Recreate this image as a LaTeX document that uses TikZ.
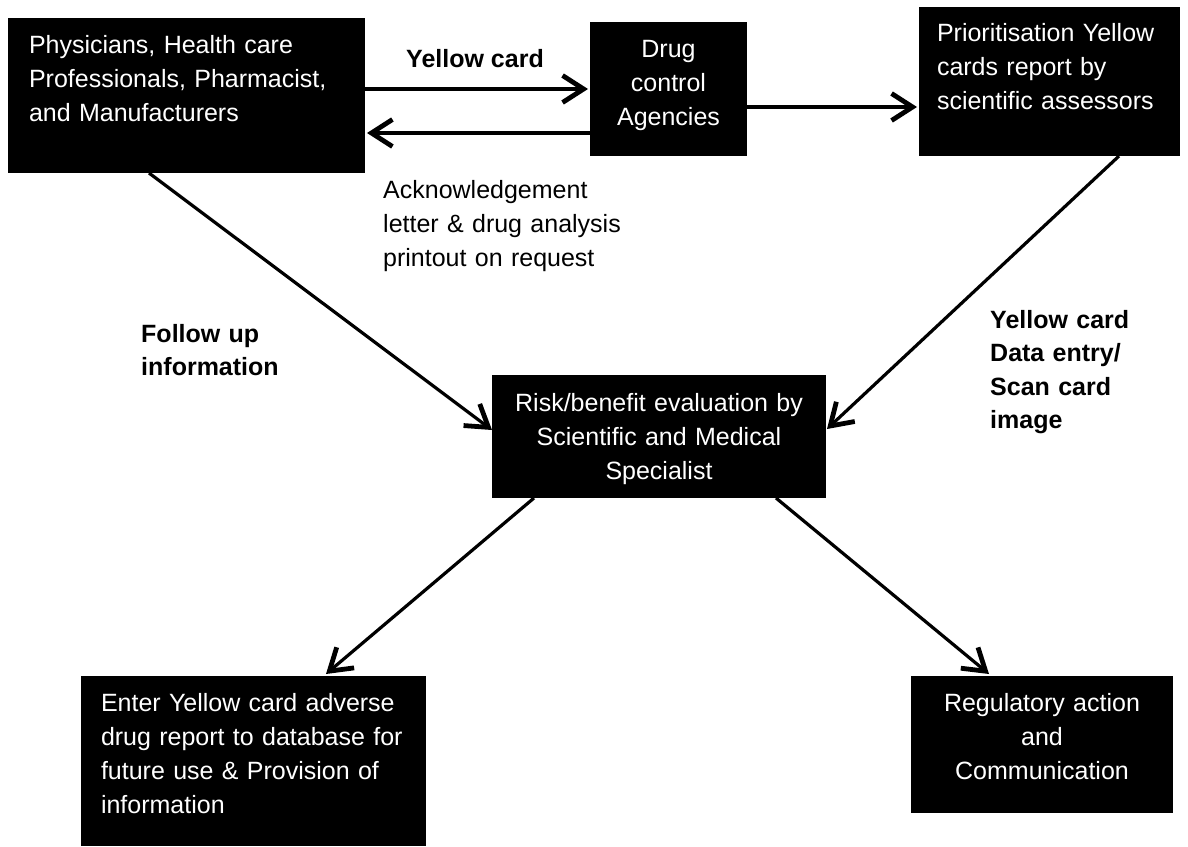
\documentclass[tikz,border=0pt]{standalone}
\usepackage{fontspec}
\setmainfont{Liberation Sans}
\usetikzlibrary{arrows.meta,calc}
\begin{document}
\begin{tikzpicture}[x=1pt,y=-1pt,
  txt/.style={font=\fontsize{25}{34}\selectfont},
  btxt/.style={font=\fontsize{25}{33.5}\selectfont\bfseries},
  box/.style={txt, fill=black, text=white, draw=none, inner ysep=0pt, outer sep=0pt, anchor=north west},
  lbl/.style={text=black, inner sep=0pt, anchor=base west},
  arr/.style={line width=3.2pt, -{Straight Barb[length=21pt,width=27pt,line width=4.8pt]}}]
\useasboundingbox[fill=white] (0,0) rectangle (1188,846);

% boxes
\node[box, inner xsep=21pt, text width=315pt, align=left, text height=35pt, text depth=120pt]
  (phys) at (8,18) {Physicians, Health care\\Professionals, Pharmacist,\\and Manufacturers};
\node[box, inner xsep=0pt, text width=157pt, align=center, text height=35pt, text depth=99pt]
  (drug) at (590,22) {Drug\\control\\Agencies};
\node[box, inner xsep=18pt, text width=225pt, align=left, text height=34pt, text depth=115pt]
  (prior) at (919,7) {Prioritisation Yellow\\cards report by\\scientific assessors};
\node[box, inner xsep=0pt, text width=334pt, align=center, text height=36pt, text depth=87pt]
  (risk) at (492,375) {Risk/benefit evaluation by\\Scientific and Medical\\Specialist};
\node[box, inner xsep=20pt, text width=305pt, align=left, text height=35pt, text depth=135pt]
  (enter) at (81,676) {Enter Yellow card adverse\\drug report to database for\\future use \& Provision of\\information};
\node[box, inner xsep=0pt, text width=262pt, align=center, text height=35pt, text depth=102pt]
  (reg) at (911,676) {Regulatory action\\and\\Communication};

% labels
\node[lbl, btxt, anchor=base] (lyc) at (475,67) {Yellow card};
\node[lbl, txt, text width=260pt, align=left] (lack) at (383,198)
  {Acknowledgement\\letter \& drug analysis\\printout on request};
\node[lbl, btxt, text width=170pt, align=left] (lfu) at (141,342) {Follow up\\information};
\node[lbl, btxt, text width=170pt, align=left] (lyd) at (990,328) {Yellow card\\Data entry/\\Scan card\\image};

% connectors
\draw[arr] ($(phys.north east)+(0,71)$) -- ($(drug.north west)+(-2,67)$);
\draw[arr] ($(drug.north west)+(0,111)$) -- ($(phys.north east)+(2,115)$);
\draw[arr] ($(drug.north east)+(0,85)$) -- ($(prior.north west)+(-2,100)$);
\draw[arr] ($(phys.south west)+(141,0)$) -- ($(risk.north west)+(0,55)$);
\draw[arr] ($(prior.south west)+(200,0)$) -- ($(risk.north east)+(1,54)$);
\draw[arr] ($(risk.south west)+(42,0)$) -- ($(enter.north west)+(245,-2)$);
\draw[arr] ($(risk.south east)+(-50,0)$) -- ($(reg.north west)+(78,-2)$);
\end{tikzpicture}
\end{document}
